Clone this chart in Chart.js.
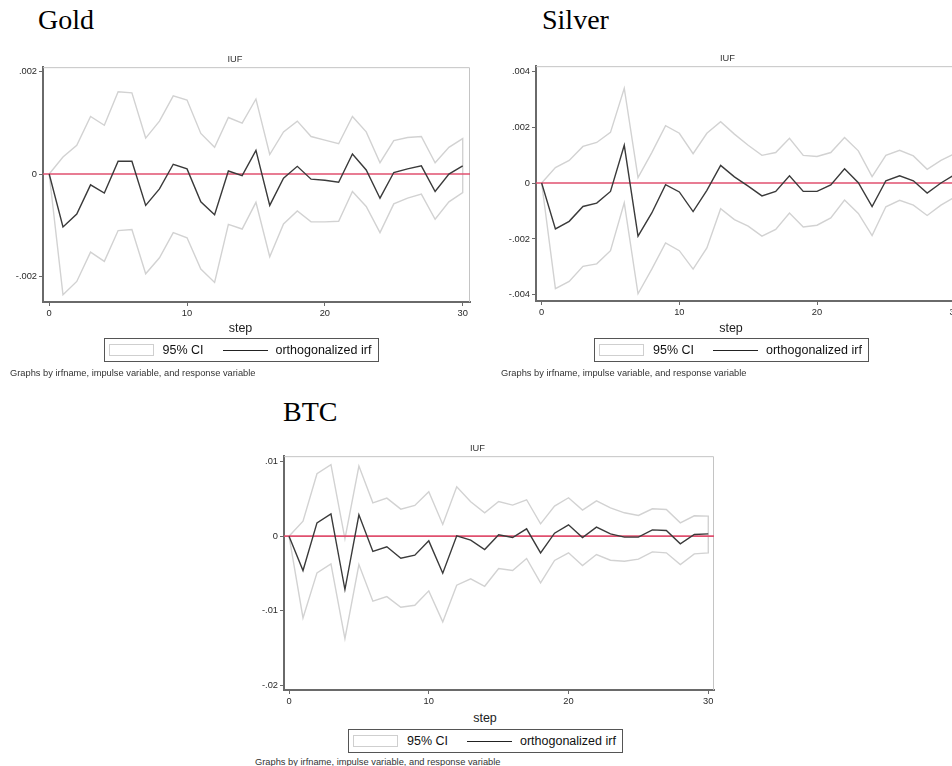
<!DOCTYPE html>
<html>
<head>
<meta charset="utf-8">
<script src="https://cdn.jsdelivr.net/npm/chart.js@4.4.1/dist/chart.umd.min.js"></script>
<style>
  html, body { margin: 0; padding: 0; background: #fff; }
  body { width: 952px; height: 766px; position: relative; overflow: hidden;
         font-family: "Liberation Sans", Arial, sans-serif; }
  .head { position: absolute; font-family: "Liberation Serif", "Times New Roman", serif;
          font-size: 28px; line-height: 28px; color: #000; white-space: nowrap; }
  canvas { position: absolute; }
  .xtitle { position: absolute; font-size: 12.5px; line-height: 14px; color: #222;
            transform: translateX(-50%); }
  .legend { position: absolute; width: 273px; height: 22px; border: 1px solid #555;
            background: #fff; font-size: 12.5px; line-height: 22px; color: #111; }
  .legend .ci { position: absolute; left: 4px; top: 5px; width: 43px; height: 10px;
                border: 1px solid #cfcfcf; }
  .legend .ln { position: absolute; left: 118px; top: 11px; width: 45px; height: 1px; background: #222; }
  .legend .t1 { position: absolute; left: 58px; top: 0; }
  .legend .t2 { position: absolute; left: 171px; top: 0; }
  .note { position: absolute; font-size: 9.3px; line-height: 11px; color: #333; white-space: nowrap; }
</style>
</head>
<body>
<div class="head" style="left:38px;top:6px">Gold</div>
<div class="head" style="left:542px;top:6px">Silver</div>
<div class="head" style="left:283px;top:398px">BTC</div>

<canvas id="gold" width="506" height="272" style="left:0px;top:50px"></canvas>
<canvas id="silver" width="510" height="272" style="left:493px;top:49px"></canvas>
<canvas id="btc" width="514" height="271" style="left:241px;top:439px"></canvas>

<script>
// steps of the impulse response
const steps = [0, 1, 2, 3, 4, 5, 6, 7, 8, 9, 10, 11, 12, 13, 14, 15, 16, 17, 18, 19, 20,
               21, 22, 23, 24, 25, 26, 27, 28, 29, 30];
const xTicks = [0, 10, 20, 30];

const goldIrf = [0, -0.00103, -0.00078, -0.00021, -0.00037, 0.00025, 0.00025, -0.00061, -0.00029, 0.00019,
  0.00010, -0.00054, -0.00079, 0.00006, -0.00003, 0.00046, -0.00061, -0.00008, 0.00015, -0.00010,
  -0.00012, -0.00016, 0.00039, 0.00008, -0.00047, 0.00003, 0.00010, 0.00016, -0.00034, 0.00000, 0.00016];
const goldUpper = [0, 0.00033, 0.00056, 0.00112, 0.00095, 0.00160, 0.00158, 0.00070, 0.00103, 0.00152,
  0.00144, 0.00079, 0.00052, 0.00110, 0.00099, 0.00146, 0.00038, 0.00082, 0.00103, 0.00073,
  0.00066, 0.00059, 0.00112, 0.00082, 0.00022, 0.00065, 0.00071, 0.00073, 0.00022, 0.00052, 0.00069];
const goldLower = [0, -0.00235, -0.00209, -0.00152, -0.00170, -0.00110, -0.00108, -0.00194, -0.00163, -0.00114,
  -0.00124, -0.00185, -0.00211, -0.00098, -0.00107, -0.00055, -0.00161, -0.00097, -0.00072, -0.00093,
  -0.00093, -0.00092, -0.00034, -0.00063, -0.00114, -0.00058, -0.00047, -0.00039, -0.00088, -0.00054, -0.00036];
const goldYTicks = [-0.002, 0, 0.002];

const silverIrf = [0, -0.00164, -0.00137, -0.00084, -0.00072, -0.00030, 0.00135, -0.00190, -0.00107, -0.00006,
  -0.00032, -0.00102, -0.00026, 0.00063, 0.00022, -0.00011, -0.00046, -0.00030, 0.00026, -0.00030,
  -0.00030, -0.00007, 0.00051, 0.00001, -0.00084, 0.00008, 0.00026, 0.00008, -0.00036, 0.00000, 0.00030];
const silverUpper = [0, 0.00055, 0.00081, 0.00131, 0.00145, 0.00181, 0.00339, 0.00019, 0.00109, 0.00205,
  0.00178, 0.00105, 0.00178, 0.00219, 0.00175, 0.00135, 0.00099, 0.00109, 0.00160, 0.00099,
  0.00095, 0.00109, 0.00163, 0.00115, 0.00023, 0.00099, 0.00117, 0.00097, 0.00049, 0.00081, 0.00105];
const silverLower = [0, -0.00378, -0.00352, -0.00298, -0.00289, -0.00242, -0.00071, -0.00396, -0.00308, -0.00214,
  -0.00242, -0.00308, -0.00232, -0.00092, -0.00131, -0.00154, -0.00190, -0.00166, -0.00107, -0.00157,
  -0.00151, -0.00125, -0.00061, -0.00109, -0.00188, -0.00085, -0.00062, -0.00079, -0.00116, -0.00079, -0.00050];
const silverYTicks = [-0.004, -0.002, 0, 0.002, 0.004];

const btcIrf = [0, -0.00462, 0.00179, 0.00300, -0.00717, 0.00287, -0.00206, -0.00143, -0.00296, -0.00256,
  -0.00063, -0.00498, 0.00004, -0.00054, -0.00179, 0.00018, -0.00018, 0.00099, -0.00224, 0.00040,
  0.00152, -0.00018, 0.00121, 0.00031, -0.00013, -0.00013, 0.00085, 0.00076, -0.00103, 0.00022, 0.00031];
const btcUpper = [0, 0.00202, 0.00839, 0.00960, -0.00036, 0.00942, 0.00448, 0.00511, 0.00363, 0.00413,
  0.00596, 0.00157, 0.00664, 0.00462, 0.00314, 0.00466, 0.00417, 0.00489, 0.00166, 0.00404,
  0.00516, 0.00350, 0.00475, 0.00381, 0.00314, 0.00278, 0.00368, 0.00359, 0.00179, 0.00274, 0.00269];
const btcLower = [0, -0.01099, -0.00493, -0.00372, -0.01377, -0.00381, -0.00874, -0.00812, -0.00955, -0.00928,
  -0.00735, -0.01152, -0.00659, -0.00574, -0.00673, -0.00435, -0.00462, -0.00300, -0.00628, -0.00327,
  -0.00224, -0.00395, -0.00247, -0.00323, -0.00336, -0.00309, -0.00211, -0.00224, -0.00381, -0.00238, -0.00224];
const btcYTicks = [-0.02, -0.01, 0, 0.01];

const AXIS = '#6a6a6a';

// stata style labels: .002, -.01
function stataFmt(v) {
  return String(v).replace('0.', '.');
}

// top/right outline of the plot region
const frame = {
  id: 'frame',
  beforeDatasetsDraw(chart) {
    const a = chart.chartArea, ctx = chart.ctx;
    ctx.save();
    ctx.strokeStyle = '#c4c4c4';
    ctx.lineWidth = 1;
    ctx.beginPath();
    ctx.moveTo(a.left, a.top + 0.5);
    ctx.lineTo(a.right - 0.5, a.top + 0.5);
    ctx.lineTo(a.right - 0.5, a.bottom);
    ctx.stroke();
    ctx.restore();
  }
};

function makePanel(id, irf, upper, lower, yTicks, yMin, yMax, xMin, xMax, padRight) {
  // CI drawn as one outline: upper band forward, lower band back
  const ciPts = upper.map((v, i) => ({ x: steps[i], y: v }));
  for (let i = lower.length - 1; i >= 0; i--) ciPts.push({ x: steps[i], y: lower[i] });

  const tickFont = { family: 'Liberation Sans', size: 9.3, weight: '500' };

  new Chart(document.getElementById(id), {
    type: 'line',
    data: {
      datasets: [
        {
          label: 'orthogonalized irf',
          data: irf.map((v, i) => ({ x: steps[i], y: v })),
          borderColor: '#3a3a3a',
          borderWidth: 1.4,
          pointRadius: 0,
          tension: 0
        },
        {
          label: 'zero',
          data: [{ x: xMin, y: 0 }, { x: xMax, y: 0 }],
          borderColor: '#e0506f',
          borderWidth: 1.6,
          pointRadius: 0
        },
        {
          label: '95% CI',
          data: ciPts,
          borderColor: '#d2d2d2',
          borderWidth: 1.4,
          pointRadius: 0,
          tension: 0
        }
      ]
    },
    options: {
      responsive: false,
      animation: false,
      layout: { padding: { left: 0, right: padRight, top: 0, bottom: 0 } },
      plugins: {
        legend: { display: false },
        tooltip: { enabled: false },
        title: {
          display: true,
          text: 'IUF',
          color: '#333',
          font: { family: 'Liberation Sans', size: 9.3, weight: 'normal' },
          padding: { top: 4, bottom: 2 }
        }
      },
      scales: {
        x: {
          type: 'linear',
          min: xMin,
          max: xMax,
          afterBuildTicks: s => { s.ticks = xTicks.map(v => ({ value: v })); },
          afterFit: s => { s.height = 20; },
          grid: { display: true, drawOnChartArea: false, drawTicks: true, tickLength: 4, color: AXIS },
          border: { display: true, color: AXIS, width: 2 },
          ticks: { color: '#2a2a2a', padding: 2, maxRotation: 0, font: tickFont }
        },
        y: {
          type: 'linear',
          min: yMin,
          max: yMax,
          afterBuildTicks: s => { s.ticks = yTicks.map(v => ({ value: v })); },
          afterFit: s => { s.width = 43; },
          grid: { display: true, drawOnChartArea: false, drawTicks: true, tickLength: 4, color: AXIS },
          border: { display: true, color: AXIS, width: 2 },
          ticks: { color: '#2a2a2a', padding: 2, callback: v => stataFmt(v), font: tickFont }
        }
      }
    },
    plugins: [frame]
  });
}

function addBelow(cx, stepY, legTop, noteX, noteY) {
  const step = document.createElement('div');
  step.className = 'xtitle';
  step.style.left = cx + 'px';
  step.style.top = (stepY - 7) + 'px';
  step.textContent = 'step';
  document.body.appendChild(step);

  const leg = document.createElement('div');
  leg.className = 'legend';
  leg.style.left = (cx - 137) + 'px';
  leg.style.top = legTop + 'px';
  leg.innerHTML = '<div class="ci"></div><div class="t1">95% CI</div>' +
                  '<div class="ln"></div><div class="t2">orthogonalized irf</div>';
  document.body.appendChild(leg);

  const note = document.createElement('div');
  note.className = 'note';
  note.style.left = noteX + 'px';
  note.style.top = (noteY - 5.5) + 'px';
  note.textContent = 'Graphs by irfname, impulse variable, and response variable';
  document.body.appendChild(note);
}

makePanel('gold', goldIrf, goldUpper, goldLower, goldYTicks, -0.00249, 0.00208, -0.45, 30.53, 36);
makePanel('silver', silverIrf, silverUpper, silverLower, silverYTicks, -0.00422, 0.00418, -0.41, 30.53, 41);
makePanel('btc', btcIrf, btcUpper, btcLower, btcYTicks, -0.02067, 0.01075, -0.36, 30.41, 41);

addBelow(240.5, 328, 338, 10, 373);
addBelow(731, 328, 338, 501, 373);
addBelow(485, 718, 729, 255, 762);
</script>
</body>
</html>
